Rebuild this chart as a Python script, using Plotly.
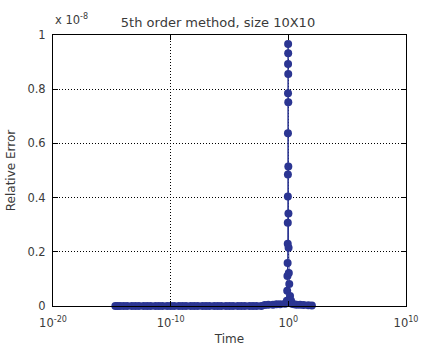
import plotly.graph_objects as go

# Band of near-zero errors (time, relative error)
band_time = [2e-15, 3e-15, 5e-15, 1e-14, 2e-14, 5e-14, 1e-13, 2e-13, 5e-13,
             1e-12, 2e-12, 5e-12, 1e-11, 2e-11, 5e-11, 1e-10, 2e-10, 5e-10,
             1e-9, 2e-9, 5e-9, 1e-8, 2e-8, 5e-8, 1e-7, 2e-7, 5e-7,
             1e-6, 2e-6, 5e-6, 1e-5, 2e-5, 5e-5, 1e-4, 2e-4, 5e-4,
             1e-3, 2e-3, 5e-3, 1e-2, 2e-2, 5e-2, 1e-1, 2e-1, 5e-1, 0.7]
band_error = [0, 0, 0, 0, 0, 0, 0, 0, 0,
              0, 0, 0, 0, 0, 0, 0, 0, 0,
              0, 0, 0, 0, 0, 0, 0, 0, 0,
              0, 0, 0, 0, 0, 0, 0, 0, 0,
              0, 0, 0, 0.004e-8, 0.005e-8, 0.005e-8, 0.006e-8, 0.006e-8, 0.008e-8, 0.01e-8]

# Spike near t = 1
spike_time = [0.75, 0.80, 0.84, 0.87, 0.89, 0.90, 0.91, 0.92, 0.93, 0.94, 0.95,
              0.96, 0.97, 0.98, 0.99, 1.00, 1.02, 1.05, 1.10, 1.20, 1.40, 1.70]
spike_error = [0.019e-8, 0.056e-8, 0.111e-8, 0.159e-8, 0.230e-8, 0.307e-8, 0.404e-8,
               0.485e-8, 0.637e-8, 0.785e-8, 0.893e-8, 0.967e-8, 0.933e-8, 0.856e-8,
               0.752e-8, 0.515e-8, 0.341e-8, 0.215e-8, 0.122e-8, 0.081e-8, 0.037e-8, 0.019e-8]

# Tail of the band after the spike
tail_time = [2.0, 3.0, 5.0, 10.0, 20.0, 50.0, 100.0]
tail_error = [0.008e-8, 0.006e-8, 0.005e-8, 0.005e-8, 0.004e-8, 0.003e-8, 0.002e-8]

x_tick_vals = [1e-20, 1e-10, 1e0, 1e10]
x_tick_text = ["10<sup>-20</sup>", "10<sup>-10</sup>", "10<sup>0</sup>", "10<sup>10</sup>"]
y_tick_vals = [0, 0.2e-8, 0.4e-8, 0.6e-8, 0.8e-8, 1e-8]
y_tick_text = ["0", "0.2", "0.4", "0.6", "0.8", "1"]

time = band_time + spike_time + tail_time
error = band_error + spike_error + tail_error

color = "#2b3592"
font = "DejaVu Sans"
textcolor = "#3a3a3a"

fig = go.Figure()
fig.add_trace(go.Scatter(
    x=time, y=error, mode="lines+markers",
    line=dict(color=color, width=1),
    marker=dict(color=color, size=8, line=dict(width=0)),
    showlegend=False, cliponaxis=False,
))

axis_common = dict(
    showline=True, linecolor="black", linewidth=1, mirror="ticks",
    ticks="inside", ticklen=5, tickcolor="black",
    showgrid=True, gridcolor="black", griddash="1px,2px", gridwidth=1,
    zeroline=False, tickfont=dict(family=font, size=11.5, color=textcolor),
    automargin=False,
)

fig.update_layout(
    width=426, height=357,
    margin=dict(l=53, r=20, t=35, b=51),
    paper_bgcolor="white", plot_bgcolor="white",
    font=dict(family=font, size=11, color=textcolor),
    title=dict(text="5th order method, size 10X10", x=218 / 426, xanchor="center", xref="container",
               y=1 - 22 / 357, yanchor="middle", yref="container",
               font=dict(family=font, size=13, color=textcolor)),
    xaxis=dict(type="log", range=[-20, 10], tickvals=x_tick_vals, ticktext=x_tick_text,
               ticklabelstandoff=6,
               title=dict(text="Time", font=dict(family=font, size=12, color=textcolor), standoff=5),
               **axis_common),
    yaxis=dict(range=[0, 1e-8], tickvals=y_tick_vals, ticktext=y_tick_text,
               ticklabelstandoff=4,
               title=dict(text="Relative Error", font=dict(family=font, size=12, color=textcolor), standoff=9),
               **axis_common),
    annotations=[dict(text="x 10<sup>-8</sup>", xref="paper", yref="paper",
                      x=0.0, y=1.0, xanchor="left", yanchor="bottom", yshift=6,
                      showarrow=False, font=dict(family=font, size=11.5, color=textcolor))],
)

fig.write_html("out.html", config={"displayModeBar": False},
               post_script="document.body.style.margin='0px';")
